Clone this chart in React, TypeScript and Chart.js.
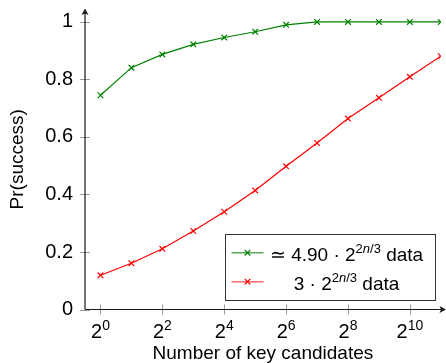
import React, { useEffect, useRef } from 'react';
import { Chart, registerables } from 'chart.js';

Chart.register(...registerables);

const xExponents = [0, 1, 2, 3, 4, 5, 6, 7, 8, 9, 10, 11];
const greenValues = [0.745, 0.841, 0.887, 0.922, 0.946, 0.966, 0.99, 1, 1, 1, 1, 1];
const redValues = [0.119, 0.161, 0.211, 0.273, 0.34, 0.414, 0.498, 0.579, 0.664, 0.736, 0.809, 0.881];
const seriesLabels = ['≃ 4.90 · 2^{2n/3} data', '3 · 2^{2n/3} data'];
const seriesColors = ['#008000', '#ff0000'];
const legendLineColors = ['#5da65d', '#ff6a6a'];
const xTickExponents = [0, 2, 4, 6, 8, 10];
const yTickValues = [0, 0.2, 0.4, 0.6, 0.8, 1];
const xTitle = 'Number of key candidates';
const yTitle = 'Pr(success)';

const FONT = '"Liberation Sans", Arial, sans-serif';

type Seg = { t: string; sup?: boolean; it?: boolean };

function parseRich(s: string): Seg[] {
  const segs: Seg[] = [];
  const re = /\^\{([^}]*)\}/g;
  let last = 0;
  let m: RegExpExecArray | null;
  while ((m = re.exec(s))) {
    if (m.index > last) segs.push({ t: s.slice(last, m.index) });
    const parts = m[1].match(/[a-zA-Z]+|[^a-zA-Z]+/g) || [];
    for (const p of parts) segs.push({ t: p, sup: true, it: /[a-zA-Z]/.test(p) });
    last = re.lastIndex;
  }
  if (last < s.length) segs.push({ t: s.slice(last) });
  return segs;
}

function drawRich(ctx: CanvasRenderingContext2D, segs: Seg[], cx: number, baseline: number, size: number, supSize: number, rise: number) {
  const fontFor = (g: Seg) => `${g.it ? 'italic ' : ''}${g.sup ? supSize : size}px ${FONT}`;
  let total = 0;
  for (const g of segs) {
    ctx.font = fontFor(g);
    total += ctx.measureText(g.t).width;
  }
  let x = cx - total / 2;
  ctx.textAlign = 'left';
  ctx.textBaseline = 'alphabetic';
  for (const g of segs) {
    ctx.font = fontFor(g);
    ctx.fillText(g.t, x, g.sup ? baseline - rise : baseline);
    x += ctx.measureText(g.t).width;
  }
}

function crossRot(ctx: CanvasRenderingContext2D, x: number, y: number, r: number) {
  const o = Math.cos(Math.PI / 4) * r;
  ctx.beginPath();
  ctx.moveTo(x - o, y - o);
  ctx.lineTo(x + o, y + o);
  ctx.moveTo(x - o, y + o);
  ctx.lineTo(x + o, y - o);
  ctx.stroke();
}

const decorPlugin = {
  id: 'decor',
  afterDraw(chart: any) {
    const ctx: CanvasRenderingContext2D = chart.ctx;
    const xs = chart.scales.x;
    const ys = chart.scales.y;
    const area = chart.chartArea;
    const x0 = area.left;
    const y0 = area.bottom;
    ctx.save();

    // ticks
    ctx.strokeStyle = '#9a9a9a';
    ctx.lineWidth = 1;
    for (const v of yTickValues) {
      const py = Math.round(ys.getPixelForValue(v)) + 0.5;
      ctx.beginPath();
      ctx.moveTo(x0 - 5, py);
      ctx.lineTo(x0 + 5, py);
      ctx.stroke();
    }
    for (const e of xTickExponents) {
      const px = Math.round(xs.getPixelForValue(e)) + 0.5;
      ctx.beginPath();
      ctx.moveTo(px, y0 - 5);
      ctx.lineTo(px, y0 + 5);
      ctx.stroke();
    }

    // axis lines
    ctx.strokeStyle = '#1a1a1a';
    ctx.fillStyle = '#1a1a1a';
    ctx.lineWidth = 1.2;
    ctx.beginPath();
    ctx.moveTo(x0, y0);
    ctx.lineTo(x0, area.top + 2);
    ctx.moveTo(x0, y0);
    ctx.lineTo(445, y0);
    ctx.stroke();
    // arrows
    ctx.beginPath();
    ctx.moveTo(x0, area.top - 0.5);
    ctx.lineTo(x0 - 3.5, area.top + 6);
    ctx.lineTo(x0, area.top + 4.5);
    ctx.lineTo(x0 + 3.5, area.top + 6);
    ctx.closePath();
    ctx.fill();
    ctx.beginPath();
    ctx.moveTo(446, y0);
    ctx.lineTo(439.5, y0 - 3.5);
    ctx.lineTo(441, y0);
    ctx.lineTo(439.5, y0 + 3.5);
    ctx.closePath();
    ctx.fill();

    // x tick labels
    ctx.fillStyle = '#000';
    for (const e of xTickExponents) {
      const px = xs.getPixelForValue(e);
      drawRich(ctx, [{ t: '2' }, { t: String(e), sup: true }], px, 338, 20, 14, 8);
    }

    // titles
    ctx.font = `19px ${FONT}`;
    ctx.textAlign = 'center';
    ctx.textBaseline = 'alphabetic';
    ctx.fillText(xTitle, (area.left + area.right) / 2, 359);
    ctx.save();
    ctx.translate(23, (area.top + area.bottom) / 2);
    ctx.rotate(-Math.PI / 2);
    ctx.fillText(yTitle, 0, 0);
    ctx.restore();

    // legend
    const lx = 225.5, ly = 234.5, lw = 210, lh = 66;
    ctx.fillStyle = '#fff';
    ctx.fillRect(lx, ly, lw, lh);
    ctx.strokeStyle = '#333';
    ctx.lineWidth = 1;
    ctx.strokeRect(lx, ly, lw, lh);
    const rowY = [252.7, 281.7];
    seriesLabels.forEach((lab, i) => {
      const ry = rowY[i];
      ctx.strokeStyle = legendLineColors[i];
      ctx.lineWidth = 1.6;
      ctx.beginPath();
      ctx.moveTo(231.5, ry);
      ctx.lineTo(263.5, ry);
      ctx.stroke();
      ctx.strokeStyle = seriesColors[i];
      ctx.lineWidth = 1.2;
      crossRot(ctx, 247.5, ry, 4);
      ctx.fillStyle = '#000';
      drawRich(ctx, parseRich(lab), 346.5, ry + 8, 19, 13, 8);
    });

    ctx.restore();
  },
};

export default function App() {
  const ref = useRef<HTMLCanvasElement>(null);
  useEffect(() => {
    document.body.style.margin = '0';
    const mk = (vals: number[]) => xExponents.map((x, i) => ({ x, y: vals[i] }));
    const chart = new Chart(ref.current as HTMLCanvasElement, {
      type: 'line',
      data: {
        datasets: [
          {
            label: seriesLabels[0],
            data: mk(greenValues),
            borderColor: seriesColors[0],
            backgroundColor: seriesColors[0],
            borderWidth: 1.2,
            pointStyle: 'crossRot',
            pointRadius: 4,
            pointBorderWidth: 1.2,
            tension: 0,
            fill: false,
          },
          {
            label: seriesLabels[1],
            data: mk(redValues),
            borderColor: seriesColors[1],
            backgroundColor: seriesColors[1],
            borderWidth: 1.2,
            pointStyle: 'crossRot',
            pointRadius: 4,
            pointBorderWidth: 1.2,
            tension: 0,
            fill: false,
          },
        ],
      },
      options: {
        animation: false,
        responsive: false,
        devicePixelRatio: 1,
        layout: { padding: { top: 9, left: 0, right: 0, bottom: 0 } },
        plugins: { legend: { display: false }, tooltip: { enabled: false } },
        scales: {
          x: {
            type: 'linear',
            min: -0.5,
            max: 11,
            grid: { display: false, drawTicks: false },
            border: { display: false },
            ticks: { display: false },
            afterFit: (s: any) => {
              s.height = 53.5;
              s.paddingLeft = 0;
              s.paddingRight = 0;
            },
          },
          y: {
            type: 'linear',
            min: 0,
            max: 1.045,
            grid: { display: false, drawTicks: false },
            border: { display: false },
            afterBuildTicks: (s: any) => {
              s.ticks = yTickValues.map((v) => ({ value: v }));
            },
            ticks: {
              padding: 12,
              color: '#000',
              font: { family: FONT, size: 20 },
              callback: (v: any) => String(v),
            },
            afterFit: (s: any) => {
              s.width = 85;
              s.paddingTop = 0;
              s.paddingBottom = 0;
            },
          },
        },
      } as any,
      plugins: [decorPlugin],
    });
    return () => chart.destroy();
  }, []);
  return (
    <div style={{ width: 446, height: 363, position: 'relative', overflow: 'hidden', background: '#fff' }}>
      <canvas ref={ref} width={446} height={363} style={{ display: 'block' }} />
    </div>
  );
}
